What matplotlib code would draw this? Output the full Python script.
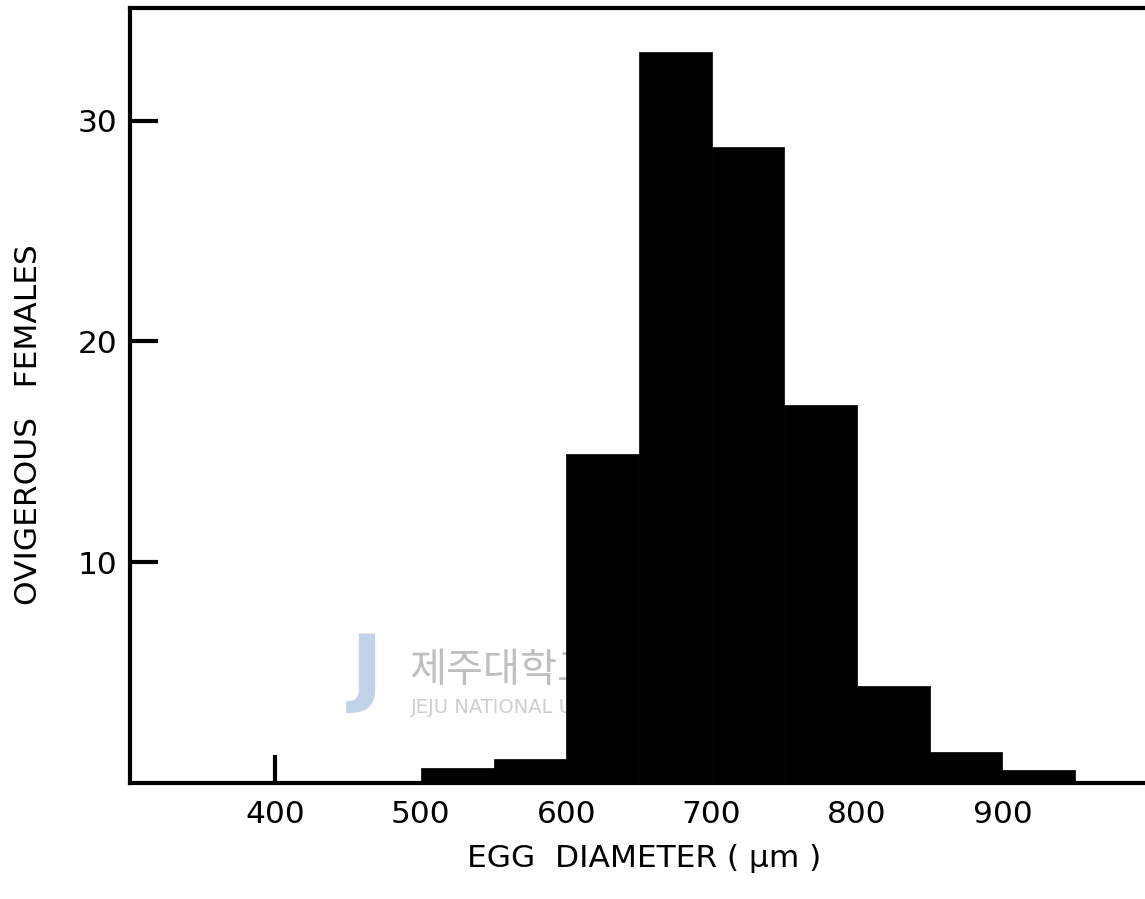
import matplotlib
matplotlib.use("Agg")
import matplotlib.pyplot as plt
import numpy as np

# Egg-diameter classes (lower edges, µm) and number of ovigerous females per class
bin_edges = [500, 550, 600, 650, 700, 750, 800, 850, 900, 950]
counts = [0.7, 1.1, 14.9, 33.1, 28.8, 17.1, 4.4, 1.4, 0.6]

x_ticks = [400, 500, 600, 700, 800, 900]
y_ticks = [10, 20, 30]

plt.rcParams['font.family'] = ['DejaVu Sans', 'Noto Sans CJK KR']

fig = plt.figure(figsize=(11.45, 8.99), dpi=100)
ax = fig.add_axes([130 / 1145, 1 - 783 / 899, 1015 / 1145, 775 / 899])

lefts = np.array(bin_edges[:-1])
widths = np.diff(bin_edges)
ax.bar(lefts, counts, width=widths, align='edge', color='black',
       edgecolor='black', linewidth=0.5, zorder=3)

# faint institutional watermark behind the bars
ax.text(492, 5.1, "제주대학교", family=['Noto Sans CJK KR'], fontsize=29,
        color='#b4b4b4', alpha=0.85, va='center', ha='left', zorder=1)
ax.text(493, 3.4, "JEJU NATIONAL UNIVERSITY", fontsize=14,
        color='#c6c6c6', alpha=0.85, va='center', ha='left', zorder=1)
ax.text(463, 5.0, "J", fontsize=62, fontweight='bold', color='#a9bfe0',
        alpha=0.7, va='center', ha='center', zorder=1)

ax.set_xlim(300, 998)
ax.set_ylim(0, 35.1)
ax.set_xticks(x_ticks)
ax.set_xticklabels([str(v) for v in x_ticks])
ax.set_yticks(y_ticks)
ax.set_yticklabels([str(v) for v in y_ticks])

ax.tick_params(axis='both', direction='in', length=20, width=3,
               colors='black', labelsize=22.5)
ax.tick_params(axis='x', pad=12)
ax.tick_params(axis='y', pad=9)
# only the 400 tick mark shows; the others sit under the bars
for tick in ax.xaxis.get_major_ticks()[1:]:
    tick.tick1line.set_visible(False)

for side in ['left', 'bottom', 'top']:
    ax.spines[side].set_linewidth(3)
    ax.spines[side].set_color('black')
ax.spines['right'].set_visible(False)

ax.set_xlabel("EGG  DIAMETER ( μm )", fontsize=22.5)
ax.xaxis.set_label_coords(0.507, -0.079)
ax.set_ylabel("OVIGEROUS   FEMALES", fontsize=22.5, va='center')
ax.yaxis.set_label_coords(-0.1, 0.462)

fig.savefig("out.png", dpi=100, facecolor='white')
